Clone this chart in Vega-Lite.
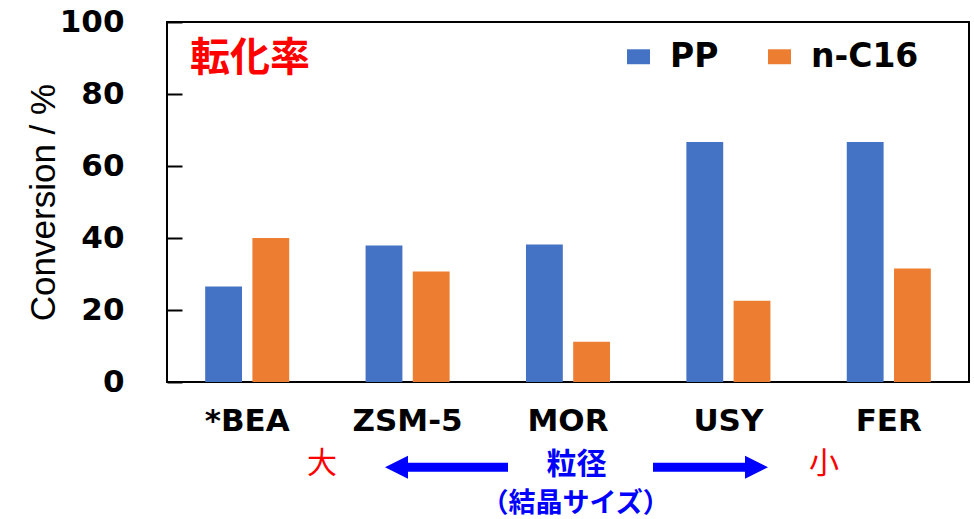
{
  "$schema": "https://vega.github.io/schema/vega-lite/v6.json",
  "width": 802,
  "height": 360,
  "autosize": {"type": "none"},
  "padding": {"left": 167, "top": 22, "right": 5, "bottom": 137},
  "background": "white",
  "config": {"view": {"stroke": "black", "strokeWidth": 2}, "font": "Liberation Sans"},
  "layer": [
    {
      "data": {"values": [
        {"zeolite": "*BEA", "series": "PP", "conversion": 26.5},
        {"zeolite": "*BEA", "series": "n-C16", "conversion": 40.0},
        {"zeolite": "ZSM-5", "series": "PP", "conversion": 37.9},
        {"zeolite": "ZSM-5", "series": "n-C16", "conversion": 30.7},
        {"zeolite": "MOR", "series": "PP", "conversion": 38.2},
        {"zeolite": "MOR", "series": "n-C16", "conversion": 11.2},
        {"zeolite": "USY", "series": "PP", "conversion": 66.7},
        {"zeolite": "USY", "series": "n-C16", "conversion": 22.6},
        {"zeolite": "FER", "series": "PP", "conversion": 66.7},
        {"zeolite": "FER", "series": "n-C16", "conversion": 31.5}
      ]},
      "mark": {"type": "bar"},
      "encoding": {
        "x": {"field": "zeolite", "type": "nominal", "sort": null,
          "scale": {"paddingInner": 0.476, "paddingOuter": 0.238},
          "axis": {"title": null, "ticks": false, "domain": false, "labelAngle": 0,
            "labelFont": "DejaVu Sans", "labelFontWeight": "bold", "labelFontSize": 31,
            "labelColor": "black", "labelPadding": 24}},
        "xOffset": {"field": "series", "type": "nominal", "sort": ["PP", "n-C16"],
          "scale": {"paddingInner": 0.22, "paddingOuter": 0}},
        "y": {"field": "conversion", "type": "quantitative",
          "scale": {"domain": [0, 100], "nice": false},
          "axis": {"values": [0, 20, 40, 60, 80, 100], "grid": false, "domain": false,
            "tickSize": -15, "tickWidth": 2, "tickColor": "black",
            "labelFont": "DejaVu Sans", "labelFontWeight": "bold", "labelFontSize": 31,
            "labelColor": "black", "labelPadding": 58,
            "title": "Conversion / %", "titleFont": "Liberation Sans", "titleFontSize": 35,
            "titleFontWeight": "normal", "titleColor": "black", "titlePadding": -2}},
        "color": {"field": "series", "type": "nominal",
          "scale": {"domain": ["PP", "n-C16"], "range": ["#4472C4", "#ED7D31"]},
          "legend": {"orient": "none", "legendX": 455, "legendY": 18, "direction": "horizontal",
            "title": null, "padding": 0,
            "symbolType": "M-1,-0.65L1,-0.65L1,0.65L-1,0.65Z", "symbolSize": 529,
            "symbolStrokeWidth": 0, "symbolOpacity": 1,
            "labelFont": "DejaVu Sans", "labelFontWeight": "bold", "labelFontSize": 33,
            "labelColor": "black", "labelOffset": 15, "columnPadding": 44}}
      }
    },
    {
      "data": {"values": [{"text": "転化率", "px": 0.517, "py": 89.6}]},
      "mark": {"type": "text", "font": "Noto Sans CJK JP", "fontWeight": "bold", "fontSize": 40,
        "color": "#FF0000", "align": "center", "baseline": "middle"},
      "encoding": {
        "x": {"field": "px", "type": "quantitative", "scale": {"domain": [0, 5], "nice": false, "zero": false}, "axis": null},
        "y": {"field": "py", "type": "quantitative", "scale": {"domain": [0, 100], "nice": false}, "axis": null},
        "text": {"field": "text"}
      }
    },
    {
      "data": {"values": [
        {"text": "大", "px": 0.966, "py": -22.9},
        {"text": "小", "px": 4.096, "py": -22.9}
      ]},
      "mark": {"type": "text", "font": "Noto Sans CJK JP", "fontWeight": "normal", "fontSize": 30,
        "color": "#FF0000", "align": "center", "baseline": "middle"},
      "encoding": {
        "x": {"field": "px", "type": "quantitative", "scale": {"domain": [0, 5], "nice": false, "zero": false}, "axis": null},
        "y": {"field": "py", "type": "quantitative", "scale": {"domain": [0, 100], "nice": false}, "axis": null},
        "text": {"field": "text"}
      }
    },
    {
      "data": {"values": [{"text": "粒径", "px": 2.553, "py": -23.1}]},
      "mark": {"type": "text", "font": "Noto Sans CJK JP", "fontWeight": "bold", "fontSize": 30,
        "color": "#0000FF", "align": "center", "baseline": "middle"},
      "encoding": {
        "x": {"field": "px", "type": "quantitative", "scale": {"domain": [0, 5], "nice": false, "zero": false}, "axis": null},
        "y": {"field": "py", "type": "quantitative", "scale": {"domain": [0, 100], "nice": false}, "axis": null},
        "text": {"field": "text"}
      }
    },
    {
      "data": {"values": [{"text": "（結晶サイズ）", "px": 2.547, "py": -33.8}]},
      "mark": {"type": "text", "font": "Noto Sans CJK JP", "fontWeight": "bold", "fontSize": 27,
        "color": "#0000FF", "align": "center", "baseline": "middle"},
      "encoding": {
        "x": {"field": "px", "type": "quantitative", "scale": {"domain": [0, 5], "nice": false, "zero": false}, "axis": null},
        "y": {"field": "py", "type": "quantitative", "scale": {"domain": [0, 100], "nice": false}, "axis": null},
        "text": {"field": "text"}
      }
    },
    {
      "data": {"values": [
        {"dir": "left", "tail": 2.126, "neck": 1.50, "tip": 1.359, "level": -23.7},
        {"dir": "right", "tail": 3.03, "neck": 3.61, "tip": 3.747, "level": -23.7}
      ]},
      "mark": {"type": "rule", "color": "#0000FF", "strokeWidth": 9},
      "encoding": {
        "x": {"field": "tail", "type": "quantitative", "scale": {"domain": [0, 5], "nice": false, "zero": false}, "axis": null},
        "x2": {"field": "neck"},
        "y": {"field": "level", "type": "quantitative", "scale": {"domain": [0, 100], "nice": false}, "axis": null}
      }
    },
    {
      "data": {"values": [
        {"dir": "left", "tail": 2.126, "neck": 1.50, "tip": 1.359, "level": -23.7},
        {"dir": "right", "tail": 3.03, "neck": 3.61, "tip": 3.747, "level": -23.7}
      ]},
      "mark": {"type": "point", "filled": true, "opacity": 1, "color": "#0000FF", "size": 529},
      "encoding": {
        "x": {"field": "tip", "type": "quantitative", "scale": {"domain": [0, 5], "nice": false, "zero": false}, "axis": null},
        "y": {"field": "level", "type": "quantitative", "scale": {"domain": [0, 100], "nice": false}, "axis": null},
        "shape": {"field": "dir", "type": "nominal",
          "scale": {"domain": ["left", "right"], "range": ["M0,0L2,-1L2,1Z", "M0,0L-2,-1L-2,1Z"]},
          "legend": null}
      }
    }
  ],
  "resolve": {"scale": {"x": "independent"}, "axis": {"y": "independent"}}
}
